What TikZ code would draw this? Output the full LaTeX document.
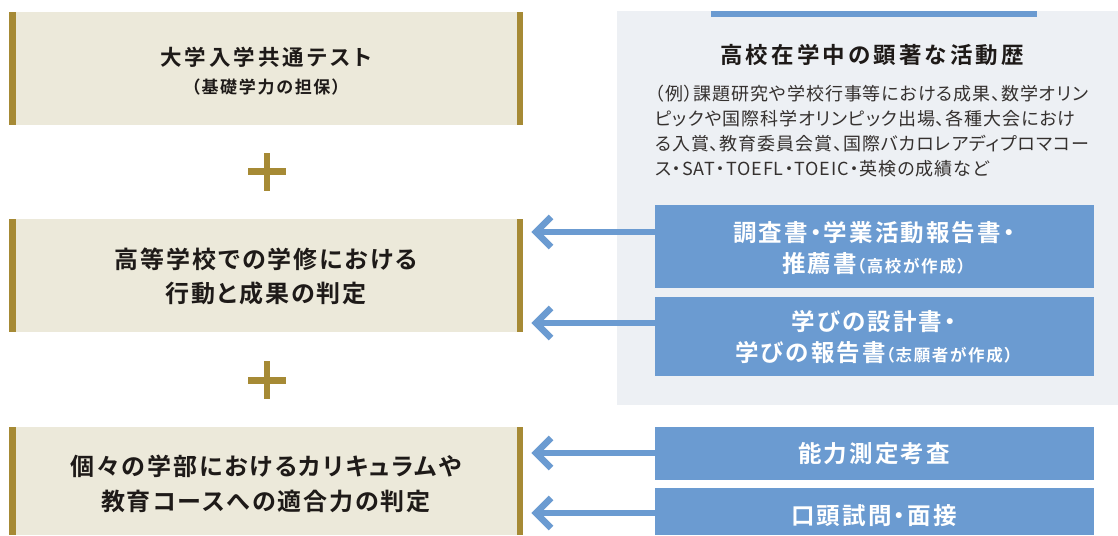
\documentclass[tikz,border=0pt]{standalone}
\usepackage{fontspec}
\setmainfont{Noto Sans CJK JP}
\newfontfamily\tA{Noto Sans CJK JP Bold}[RawFeature=+palt, LetterSpace=8]
\newfontfamily\tB{Noto Sans CJK JP Bold}[RawFeature=+palt, LetterSpace=14]
\newfontfamily\tC{Noto Sans CJK JP Bold}[RawFeature=+palt, LetterSpace=9]
\newfontfamily\tS{Noto Sans CJK JP Bold}[RawFeature=+palt, LetterSpace=10]
\newfontfamily\tD{Noto Sans CJK JP}[RawFeature=+palt, LetterSpace=5]
\definecolor{beige}{HTML}{ECE9DA}
\definecolor{gold}{HTML}{A68A35}
\definecolor{panelc}{HTML}{EDF0F4}
\definecolor{bluec}{HTML}{6B9BD1}
\definecolor{ink}{HTML}{1E1A18}
\begin{document}
\begin{tikzpicture}[x=1pt,y=-1pt,
  lbox/.style={fill=beige, draw=none, minimum width=514pt, anchor=north west, inner sep=0pt},
  bbox/.style={fill=bluec, draw=none, minimum width=439pt, anchor=north west, inner sep=0pt},
  ttl/.style={text=ink, inner sep=0pt, align=center, font={\tA\fontsize{24}{34.5}\selectfont}},
  ttls/.style={text=ink, inner sep=0pt, align=center, font={\tB\fontsize{21.5}{26}\selectfont}},
  sub/.style={text=ink, inner sep=0pt, font={\tS\fontsize{17}{18}\selectfont}},
  btxt/.style={text=white, inner sep=0pt, align=center, font={\tC\fontsize{23.5}{31.5}\selectfont}},
  small/.style={},
  body/.style={text=ink!90, inner sep=0pt, anchor=west, font={\tD\fontsize{18}{20}\selectfont}},
  arrline/.style={draw=bluec, line width=6.5pt},
  arrhead/.style={draw=bluec, line width=6.5pt, line join=miter, line cap=butt},
]
\useasboundingbox (0,0) rectangle (1118,535);
% left boxes
\node[lbox, minimum height=113pt] (a1) at (9,12) {};
\node[lbox, minimum height=113pt] (a2) at (9,219) {};
\node[lbox, minimum height=108pt] (a3) at (9,427) {};
\foreach \n in {a1,a2,a3}{
  \fill[gold] (\n.north west) rectangle ([xshift=6.5pt]\n.south west);
  \fill[gold] ([xshift=-6.5pt]\n.north east) rectangle (\n.south east);
}
\node[ttls] (a1t) at (266,57) {大学入学共通テスト};
\node[sub] (a1s) at (266,87) {（基礎学力の担保）};
\node[ttl] (a2t) at (266,276.5) {高等学校での学修における\\行動と成果の判定};
\node[ttl] (a3t) at (266,484) {個々の学部におけるカリキュラムや\\教育コースへの適合力の判定};
% plus signs
\foreach \cy in {171.5,380}{
  \fill[gold] (248,\cy-3.5) rectangle (286,\cy+3.5);
  \fill[gold] (263.75,\cy-19) rectangle (270.25,\cy+19);
}
% right panel
\node[fill=panelc, draw=none, minimum width=501pt, minimum height=394pt, anchor=north west, inner sep=0pt] (p) at (617,11) {};
\fill[bluec] (711,11) rectangle (1037,17.5);
\node[ttls, font={\tB\fontsize{22.5}{26}\selectfont}] (pt) at (872,55) {高校在学中の顕著な活動歴};
\node[body] (l1) at (655,93.5) {（例）課題研究や学校行事等における成果、数学オリン};
\node[body] (l2) at (655,119) {ピックや国際科学オリンピック出場、各種大会におけ};
\node[body] (l3) at (655,144) {る入賞、教育委員会賞、国際バカロレアディプロマコー};
\node[body] (l4) at (655,169) {ス・SAT・TOEFL・TOEIC・英検の成績など};
% blue boxes
\node[bbox, minimum height=83pt] (b1) at (655,205) {};
\node[bbox, minimum height=79pt] (b2) at (655,297) {};
\node[bbox, minimum height=53pt] (b3) at (655,427) {};
\node[bbox, minimum height=47pt] (b4) at (655,488) {};
\node[btxt] (b1t) at (874,248) {調査書・学業活動報告書・\\推薦書{\tS\fontsize{16.5}{18}\selectfont（高校が作成）}};
\node[btxt] (b2t) at (874,337) {学びの設計書・\\学びの報告書{\tS\fontsize{16.5}{18}\selectfont（志願者が作成）}};
\node[btxt] (b3t) at (874,453.3) {能力測定考査};
\node[btxt] (b4t) at (874,515.7) {口頭試問・面接};
% arrows
\coordinate (t1) at (536,232);
\coordinate (t2) at (536,323);
\coordinate (t3) at (536,453);
\coordinate (t4) at (536,513);
\foreach \b/\t in {b1/t1,b2/t2,b3/t3,b4/t4}{
  \draw[arrline] (\b.west |- \t) -- (\t);
  \draw[arrhead] ([xshift=15pt,yshift=15pt]\t) -- (\t) -- ([xshift=15pt,yshift=-15pt]\t);
}
\end{tikzpicture}
\end{document}
